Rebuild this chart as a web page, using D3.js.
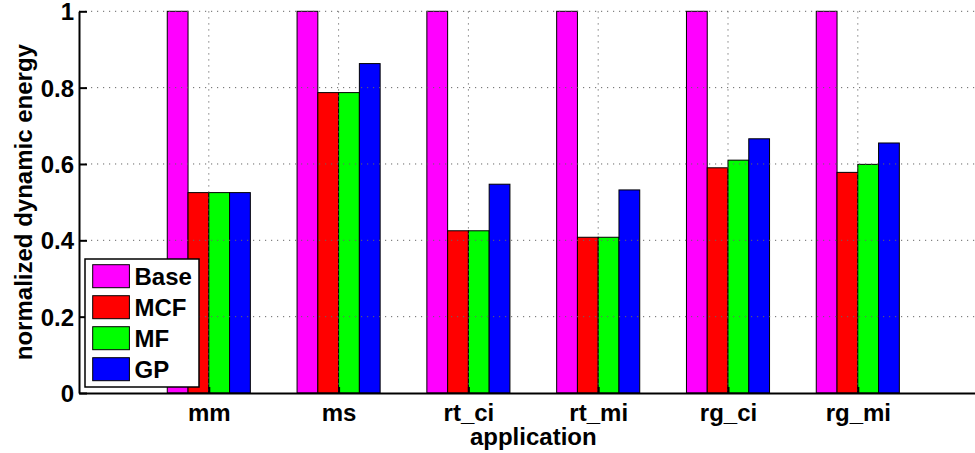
<!DOCTYPE html>
<html>
<head>
<meta charset="utf-8">
<script src="https://cdn.jsdelivr.net/npm/d3@7"></script>
<style>
  body { margin: 0; background: #fff; }
  text { font-family: "Liberation Sans", Arial, Helvetica, sans-serif; font-weight: bold; fill: #000; }
</style>
</head>
<body>
<svg id="chart" width="975" height="453"></svg>
<script>
// chart values
var categories = ['mm', 'ms', 'rt_ci', 'rt_mi', 'rg_ci', 'rg_mi'];
var seriesNames = ['Base', 'MCF', 'MF', 'GP'];
var seriesColors = ['#ff00ff', '#ff0000', '#00ff00', '#0000ff'];
var baseValues = [1, 1, 1, 1, 1, 1];
var mcfValues = [0.525, 0.787, 0.425, 0.408, 0.590, 0.578];
var mfValues = [0.525, 0.787, 0.425, 0.408, 0.610, 0.599];
var gpValues = [0.525, 0.863, 0.547, 0.532, 0.666, 0.655];
var yTicks = [0, 0.2, 0.4, 0.6, 0.8, 1];

var seriesValues = [baseValues, mcfValues, mfValues, gpValues];

var svg = d3.select('#chart');
var plotLeft = 79, plotTop = 11.3, plotBottom = 393;
var step = 129.8;

var x = d3.scaleLinear().domain([0, categories.length + 1]).range([plotLeft, plotLeft + step * (categories.length + 1)]);
var y = d3.scaleLinear().domain([0, 1]).range([plotBottom, plotTop]);
var barW = step * 0.16;
var xs = d3.scaleBand().domain(seriesNames).range([-2 * barW, 2 * barW]).padding(0);

// bars
var groups = svg.append('g').selectAll('g.group')
  .data(categories)
  .enter().append('g')
    .attr('class', 'group')
    .attr('transform', (d, i) => 'translate(' + x(i + 1) + ',0)');

groups.selectAll('rect')
  .data((d, i) => seriesNames.map((s, k) => ({name: s, value: seriesValues[k][i], color: seriesColors[k]})))
  .enter().append('rect')
    .attr('x', d => xs(d.name))
    .attr('width', xs.bandwidth())
    .attr('y', d => y(d.value))
    .attr('height', d => y(0) - y(d.value))
    .attr('fill', d => d.color)
    .attr('stroke', '#000')
    .attr('stroke-width', 1);

// dotted grid, drawn on top of bars
var grid = svg.append('g')
  .attr('stroke', '#666')
  .attr('stroke-width', 1)
  .attr('stroke-dasharray', '1.2,4.8');
grid.selectAll('line.h')
  .data(yTicks.filter(t => t > 0))
  .enter().append('line')
    .attr('class', 'h')
    .attr('x1', plotLeft).attr('x2', x(categories.length + 1))
    .attr('y1', d => y(d)).attr('y2', d => y(d));
grid.selectAll('line.v')
  .data(categories)
  .enter().append('line')
    .attr('class', 'v')
    .attr('x1', (d, i) => x(i + 1)).attr('x2', (d, i) => x(i + 1))
    .attr('y1', plotTop).attr('y2', plotBottom);

// axes
var yAxis = d3.axisLeft(y).tickValues(yTicks).tickSize(-8).tickSizeOuter(0).tickPadding(6)
  .tickFormat(d => d === 0 || d === 1 ? d3.format('d')(d) : d3.format('.1f')(d));
var gy = svg.append('g').attr('transform', 'translate(' + plotLeft + ',0)').call(yAxis);
gy.select('.domain').attr('stroke', '#000').attr('stroke-width', 2);
gy.selectAll('.tick line').attr('stroke', '#000').attr('stroke-width', 2);
gy.selectAll('.tick text').style('font-size', '24px').attr('x', -5).attr('dy', '0.36em');

var xAxis = d3.axisBottom(x).tickValues(d3.range(1, categories.length + 1))
  .tickSize(-6).tickSizeOuter(0).tickPadding(14).tickFormat(d => categories[d - 1]);
var gx = svg.append('g').attr('transform', 'translate(0,' + plotBottom + ')').call(xAxis);
gx.select('.domain').attr('stroke', '#000').attr('stroke-width', 2);
gx.selectAll('.tick line').attr('stroke', '#000').attr('stroke-width', 2);
gx.selectAll('.tick text').style('font-size', '24px').attr('dy', 0).attr('y', 28);

// axis titles
svg.append('text')
  .attr('x', (x.range()[0] + x.range()[1]) / 2)
  .attr('y', 445)
  .attr('text-anchor', 'middle')
  .style('font-size', '24px')
  .text('application');

svg.append('text')
  .attr('transform', 'translate(32,' + (plotTop + plotBottom) / 2 + ') rotate(-90)')
  .attr('text-anchor', 'middle')
  .style('font-size', '24px')
  .text('normalized dynamic energy');

// legend
var legend = svg.append('g').attr('transform', 'translate(85,259)');
legend.append('rect')
  .attr('width', 114).attr('height', 128)
  .attr('fill', '#fff').attr('stroke', '#000').attr('stroke-width', 1.5);
var items = legend.selectAll('g.item')
  .data(seriesNames)
  .enter().append('g')
    .attr('class', 'item')
    .attr('transform', (d, i) => 'translate(0,' + (5.7 + i * 31) + ')');
items.append('rect')
  .attr('x', 7.7).attr('width', 36.7).attr('height', 23)
  .attr('fill', (d, i) => seriesColors[i])
  .attr('stroke', '#000').attr('stroke-width', 1);
items.append('text')
  .attr('x', 49.5).attr('y', 11.5).attr('dy', '0.36em')
  .style('font-size', '24px')
  .text(d => d);
</script>
</body>
</html>
